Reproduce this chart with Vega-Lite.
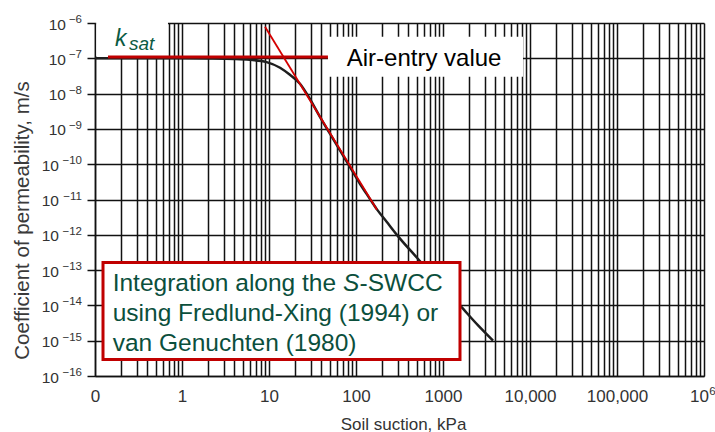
{
  "$schema": "https://vega.github.io/schema/vega-lite/v6.json",
  "width": 609,
  "height": 353,
  "autosize": "none",
  "padding": {"left": 95, "top": 23, "right": 11, "bottom": 56},
  "background": "white",
  "config": {"view": {"stroke": null}, "font": "Liberation Sans"},
  "datasets": {
    "curve": [
      {"x": 0.1, "y": 1.0e-7}, {"x": 0.5, "y": 1.0e-7}, {"x": 1, "y": 1.0e-7}, {"x": 2, "y": 9.9e-8},
      {"x": 4, "y": 9.6e-8}, {"x": 6, "y": 9.1e-8}, {"x": 9.4, "y": 7.8e-8}, {"x": 13.4, "y": 5.4e-8},
      {"x": 17.4, "y": 3.4e-8}, {"x": 22.7, "y": 1.9e-8}, {"x": 29.6, "y": 7.0e-9}, {"x": 38.5, "y": 2.2e-9},
      {"x": 54.5, "y": 5.2e-10}, {"x": 78.9, "y": 1.15e-10}, {"x": 111, "y": 2.8e-11}, {"x": 140, "y": 1.17e-11},
      {"x": 174, "y": 5.25e-12}, {"x": 225, "y": 2.34e-12}, {"x": 300, "y": 9.5e-13}, {"x": 502, "y": 2.24e-13},
      {"x": 1000, "y": 3.3e-14}, {"x": 1567, "y": 1.0e-14}, {"x": 2500, "y": 2.8e-15}, {"x": 3760, "y": 1.0e-15}
    ],
    "tangent": [{"x": 9.0, "y": 7.85e-7}, {"x": 174, "y": 5.1e-12}],
    "ksatline": [{"x": 0.141, "y": 1.09e-7}, {"x": 47.6, "y": 1.09e-7}],
    "whiteboxes": [
      {"x": 0.1032, "x2": 0.69, "y": 1.25e-6, "y2": 1.147e-7},
      {"x": 47.6, "x2": 8308, "y": 4.09e-7, "y2": 3.01e-8}
    ],
    "redbox": [{"x": 0.1236, "x2": 1568, "y": 1.64e-13, "y2": 2.93e-16}],
    "airtext": [{"x": 78.2, "y": 5.9e-8, "t": "Air-entry value"}],
    "ktext": [{"x": 0.17, "y": 2.17e-7, "t": "k"}],
    "sattext": [{"x": 0.246, "y": 1.75e-7, "t": "sat"}],
    "boxtext": [
      {"x": 0.1597, "y": 2.49e-14, "t": "Integration along the"},
      {"x": 110, "y": 2.49e-14, "t": "-SWCC"},
      {"x": 0.1597, "y": 3.52e-15, "t": "using Fredlund-Xing (1994) or"},
      {"x": 0.1597, "y": 4.98e-16, "t": "van Genuchten (1980)"}
    ],
    "stext": [{"x": 70.9, "y": 2.49e-14, "t": "S"}]
  },
  "resolve": {"axis": {"x": "independent", "y": "independent"}},
  "encoding": {
    "x": {"field": "x", "type": "quantitative", "scale": {"type": "log", "domain": [0.1, 1000000], "nice": false}, "axis": null},
    "y": {"field": "y", "type": "quantitative", "scale": {"type": "log", "domain": [1e-16, 1e-6], "nice": false}, "axis": null}
  },
  "layer": [
    {
      "data": {"name": "curve"},
      "mark": {"type": "line", "color": "#1e1e1e", "strokeWidth": 2.5, "interpolate": "monotone"},
      "encoding": {
        "x": {
          "field": "x", "type": "quantitative",
          "scale": {"type": "log", "domain": [0.1, 1000000], "nice": false},
          "axis": {
            "orient": "bottom",
            "values": [0.1,0.2,0.3,0.4,0.5,0.6,0.7,0.8,0.9,1,2,3,4,5,6,7,8,9,10,20,30,40,50,60,70,80,90,100,200,300,400,500,600,700,800,900,1000,2000,3000,4000,5000,6000,7000,8000,9000,10000,20000,30000,40000,50000,60000,70000,80000,90000,100000,200000,300000,400000,500000,600000,700000,800000,900000,1000000],
            "grid": true, "gridColor": "#111111", "gridWidth": 1.5, "gridOpacity": 1,
            "ticks": false, "tickSize": 0,
            "domain": true, "domainColor": "#111111", "domainWidth": 1.5,
            "labelExpr": "datum.value == 0.1 ? '0' : datum.value == 1 ? '1' : datum.value == 10 ? '10' : datum.value == 100 ? '100' : datum.value == 1000 ? '1000' : datum.value == 10000 ? '10,000' : datum.value == 100000 ? '100,000' : datum.value == 1000000 ? '10' : ''",
            "labelOffset": {"condition": {"test": "datum.value == 1000000", "value": -5}, "value": 0},
            "labelFont": "Liberation Sans", "labelFontSize": 17, "labelColor": "#333333",
            "labelPadding": 12, "labelOverlap": false, "labelFlush": false, "labelBound": false,
            "title": "Soil suction, kPa", "titleFont": "Liberation Sans", "titleFontSize": 17, "titleFontWeight": "normal",
            "titleColor": "#333333", "titleX": 308, "titleY": 53, "titleBaseline": "alphabetic", "titleAlign": "center"
          }
        },
        "y": {
          "field": "y", "type": "quantitative",
          "scale": {"type": "log", "domain": [1e-16, 1e-6], "nice": false},
          "axis": {
            "orient": "left",
            "values": [1e-16,1e-15,1e-14,1e-13,1e-12,1e-11,1e-10,1e-9,1e-8,1e-7,1e-6],
            "grid": true, "gridColor": "#111111", "gridWidth": 1.5, "gridOpacity": 1,
            "ticks": true, "tickSize": 8, "tickColor": "#111111", "tickWidth": 1.5,
            "domain": true, "domainColor": "#111111", "domainWidth": 1.5,
            "labelExpr": "'10'",
            "labelFont": "Liberation Sans", "labelFontSize": 15.5, "labelColor": "#333333",
            "labelPadding": {"condition": {"test": "datum.value < 1.5e-10", "value": 28.5}, "value": 21.5},
            "labelOffset": 1, "labelOverlap": false, "labelFlush": false, "labelBound": false,
            "title": "Coefficient of permeability, m/s", "titleFont": "Liberation Sans", "titleFontSize": 20.5, "titleFontWeight": "normal",
            "titleColor": "#3a3a3a", "titleX": -67, "titleY": 197, "titleBaseline": "alphabetic", "titleAlign": "center"
          }
        }
      }
    },
    {
      "data": {"name": "tangent"},
      "mark": {"type": "line", "color": "#d40000", "strokeWidth": 1.8},
      "encoding": {
        "x": {
          "field": "x", "type": "quantitative",
          "axis": {
            "orient": "bottom", "values": [1000000], "grid": false, "ticks": false, "tickSize": 0, "domain": false,
            "labelExpr": "'6'", "labelFont": "Liberation Sans", "labelFontSize": 11.5, "labelColor": "#333333",
            "labelBaseline": "alphabetic", "labelPadding": 18, "labelOffset": 8,
            "labelOverlap": false, "labelFlush": false, "labelBound": false, "title": null
          }
        },
        "y": {
          "field": "y", "type": "quantitative",
          "axis": {
            "orient": "left",
            "values": [1e-16,1e-15,1e-14,1e-13,1e-12,1e-11,1e-10,1e-9,1e-8,1e-7,1e-6],
            "grid": false, "ticks": false, "tickSize": 0, "domain": false,
            "labelExpr": "'\u2212' + round(-log(datum.value)/LN10)",
            "labelFont": "Liberation Sans", "labelFontSize": 11.5, "labelColor": "#333333",
            "labelPadding": 13.5, "labelOffset": -3.5, "labelBaseline": "middle",
            "labelOverlap": false, "labelFlush": false, "labelBound": false, "title": null
          }
        }
      }
    },
    {"data": {"name": "whiteboxes"}, "mark": {"type": "rect", "fill": "white", "strokeWidth": 0},
     "encoding": {"x2": {"field": "x2"}, "y2": {"field": "y2"}}},
    {"data": {"name": "ksatline"}, "mark": {"type": "line", "color": "#c00000", "strokeWidth": 3}},
    {"data": {"name": "airtext"}, "mark": {"type": "text", "align": "left", "baseline": "alphabetic", "fontSize": 24, "color": "#000000", "font": "Liberation Sans"},
     "encoding": {"text": {"field": "t"}}},
    {"data": {"name": "ktext"}, "mark": {"type": "text", "align": "left", "baseline": "alphabetic", "fontSize": 23, "fontStyle": "italic", "color": "#0b5a42", "font": "Liberation Sans"},
     "encoding": {"text": {"field": "t"}}},
    {"data": {"name": "sattext"}, "mark": {"type": "text", "align": "left", "baseline": "alphabetic", "fontSize": 19, "fontStyle": "italic", "color": "#0b5a42", "font": "Liberation Sans"},
     "encoding": {"text": {"field": "t"}}},
    {"data": {"name": "redbox"}, "mark": {"type": "rect", "fill": "white", "stroke": "#c00000", "strokeWidth": 3},
     "encoding": {"x2": {"field": "x2"}, "y2": {"field": "y2"}}},
    {"data": {"name": "boxtext"}, "mark": {"type": "text", "align": "left", "baseline": "alphabetic", "fontSize": 24.5, "color": "#0b4f3c", "font": "Liberation Sans"},
     "encoding": {"text": {"field": "t"}}},
    {"data": {"name": "stext"}, "mark": {"type": "text", "align": "left", "baseline": "alphabetic", "fontSize": 24.5, "fontStyle": "italic", "color": "#0b4f3c", "font": "Liberation Sans"},
     "encoding": {"text": {"field": "t"}}}
  ]
}
